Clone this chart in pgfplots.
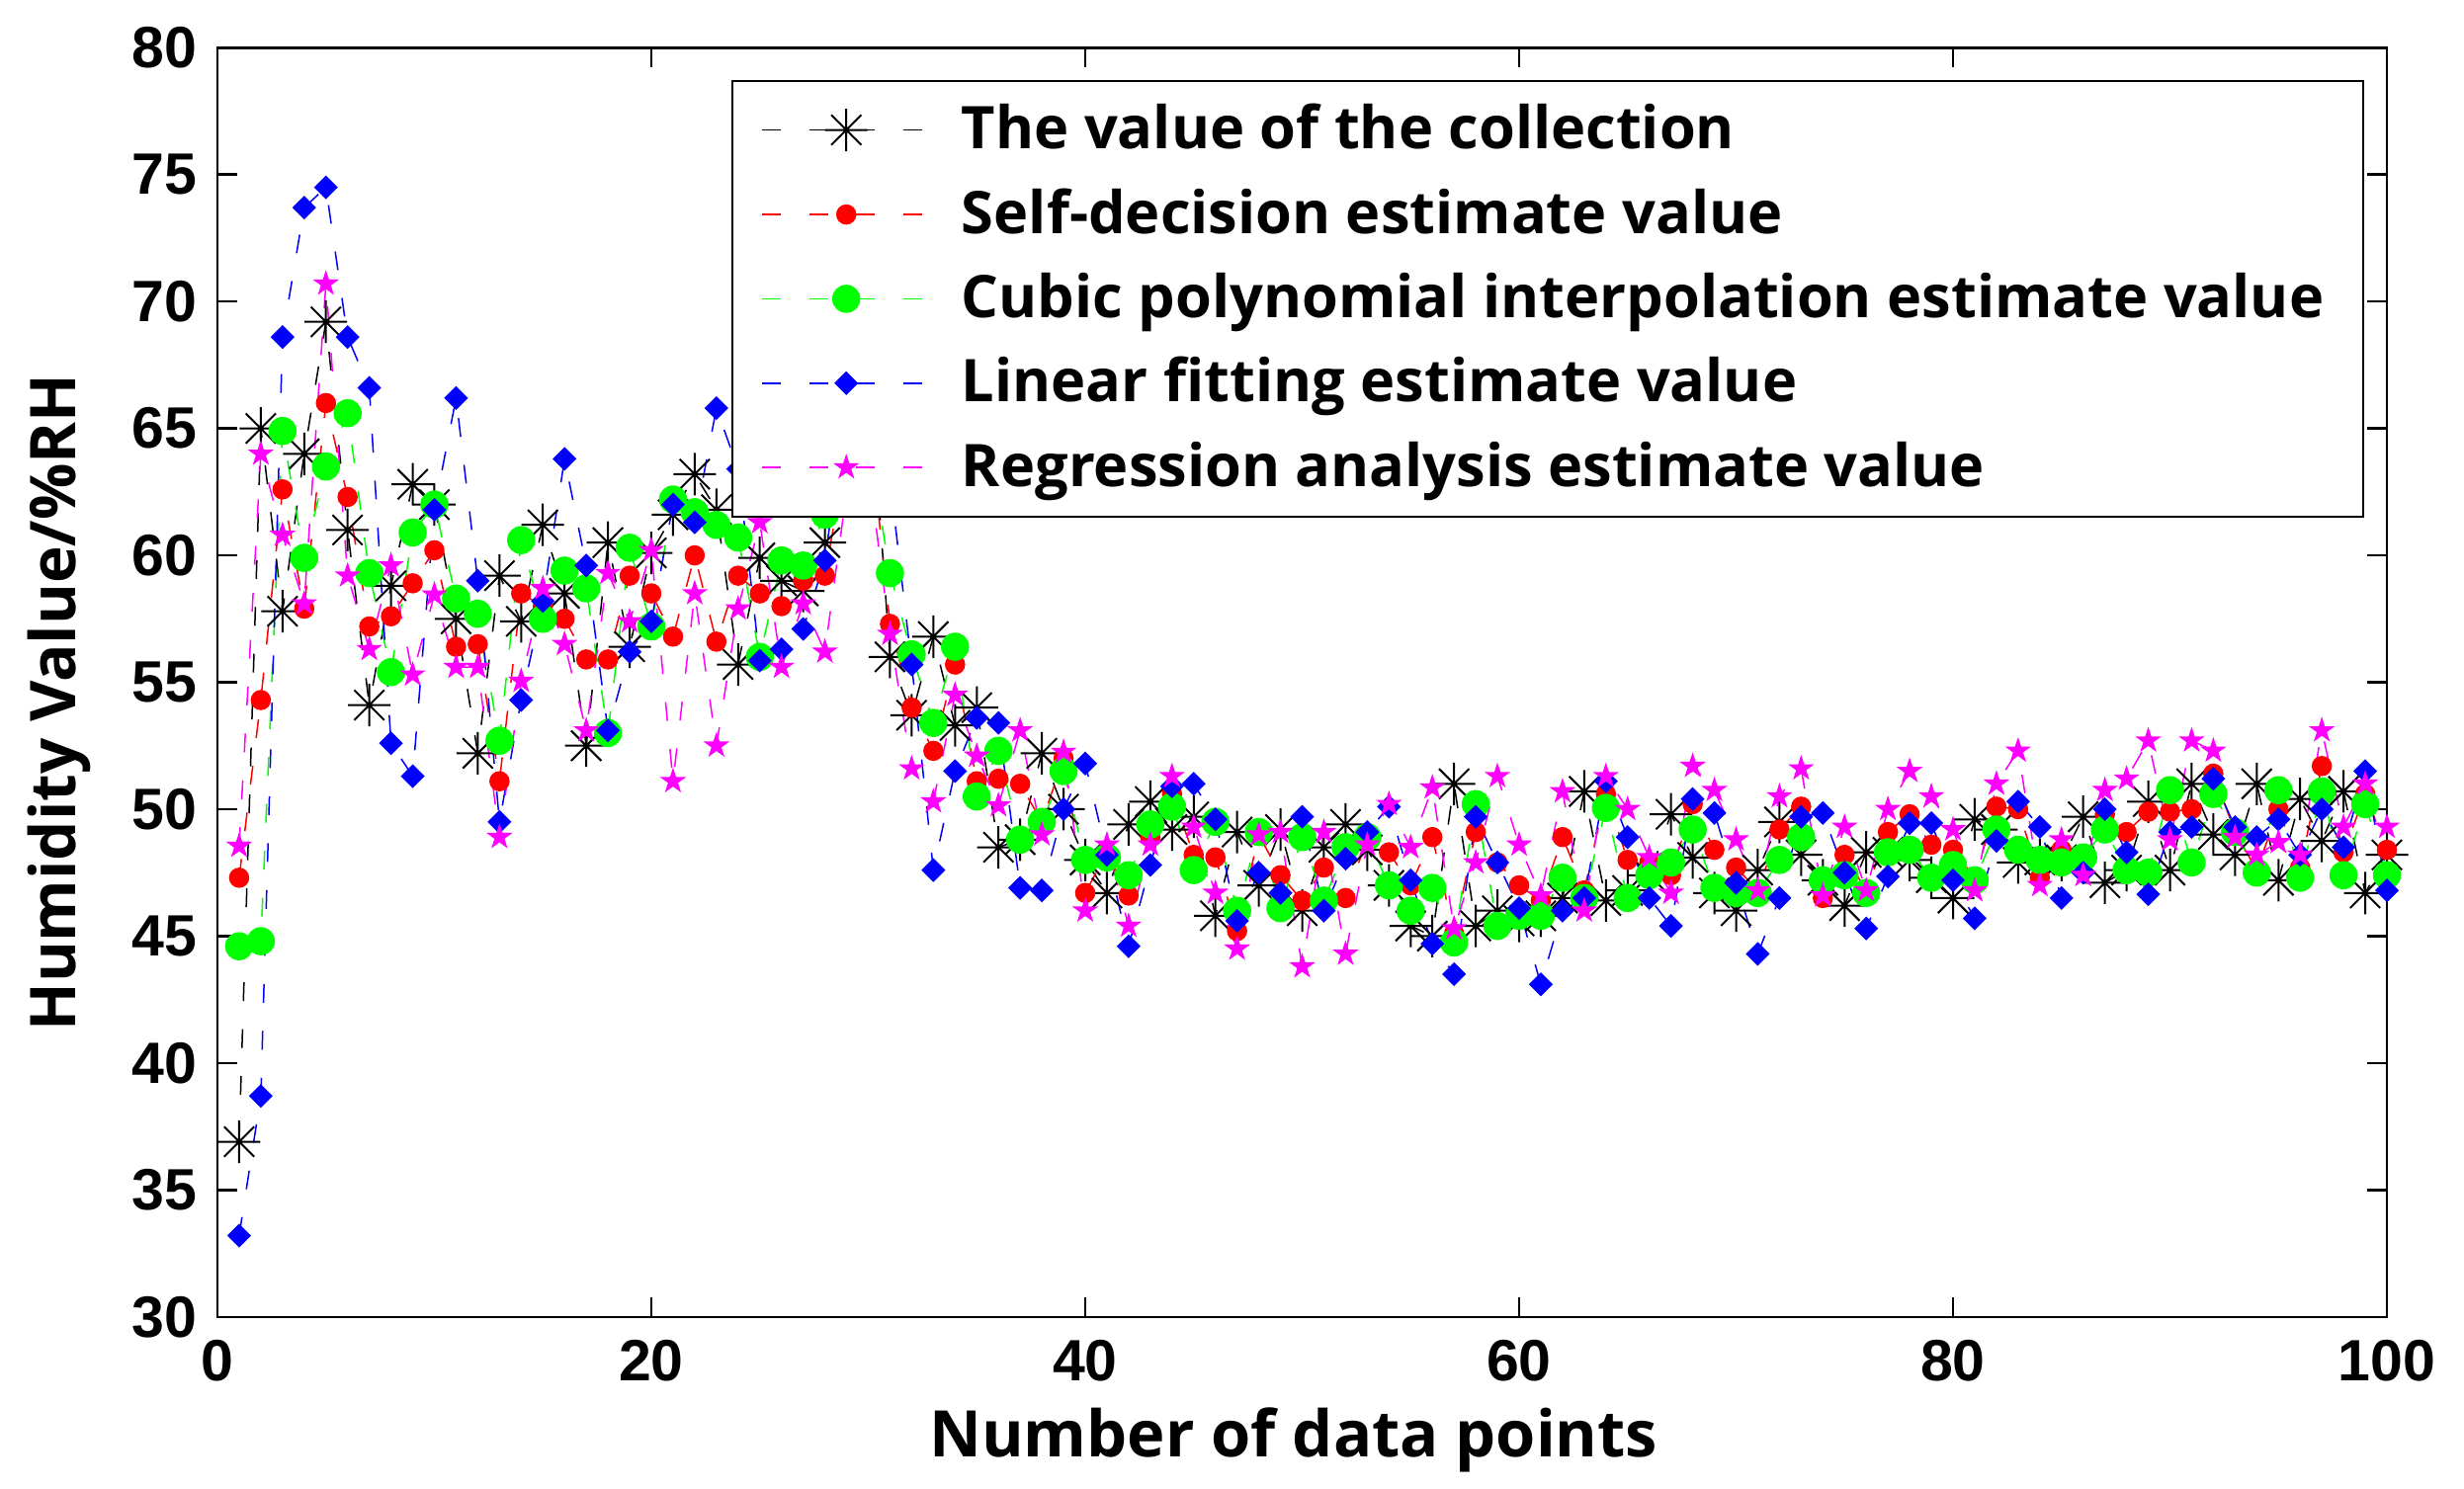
\documentclass[border=0pt]{standalone}
\usepackage{fontspec}
\setmainfont{Open Sans}
\newfontfamily\tickfont{Liberation Sans}
\usepackage{pgfplots}
\usepackage{pgfplotstable}
\pgfplotsset{compat=1.18}
\definecolor{mgt}{rgb}{1,0,1}
\definecolor{grn}{rgb}{0,1,0}

% 8-armed asterisk, filled square-diamond and filled pentagram, as in the figure
\pgfdeclareplotmark{ast8}{%
  \pgfpathmoveto{\pgfqpoint{-\pgfplotmarksize}{0pt}}\pgfpathlineto{\pgfqpoint{\pgfplotmarksize}{0pt}}%
  \pgfpathmoveto{\pgfqpoint{0pt}{-\pgfplotmarksize}}\pgfpathlineto{\pgfqpoint{0pt}{\pgfplotmarksize}}%
  \pgfpathmoveto{\pgfqpoint{-0.707\pgfplotmarksize}{-0.707\pgfplotmarksize}}\pgfpathlineto{\pgfqpoint{0.707\pgfplotmarksize}{0.707\pgfplotmarksize}}%
  \pgfpathmoveto{\pgfqpoint{-0.707\pgfplotmarksize}{0.707\pgfplotmarksize}}\pgfpathlineto{\pgfqpoint{0.707\pgfplotmarksize}{-0.707\pgfplotmarksize}}%
  \pgfusepathqstroke}
\pgfdeclareplotmark{dia}{%
  \pgfpathmoveto{\pgfqpoint{0pt}{\pgfplotmarksize}}%
  \pgfpathlineto{\pgfqpoint{\pgfplotmarksize}{0pt}}%
  \pgfpathlineto{\pgfqpoint{0pt}{-\pgfplotmarksize}}%
  \pgfpathlineto{\pgfqpoint{-\pgfplotmarksize}{0pt}}%
  \pgfpathclose\pgfusepathqfillstroke}
\pgfdeclareplotmark{pent}{%
  \pgfpathmoveto{\pgfpointpolar{90}{\pgfplotmarksize}}%
  \pgfpathlineto{\pgfpointpolar{126}{0.382\pgfplotmarksize}}%
  \pgfpathlineto{\pgfpointpolar{162}{\pgfplotmarksize}}%
  \pgfpathlineto{\pgfpointpolar{198}{0.382\pgfplotmarksize}}%
  \pgfpathlineto{\pgfpointpolar{234}{\pgfplotmarksize}}%
  \pgfpathlineto{\pgfpointpolar{270}{0.382\pgfplotmarksize}}%
  \pgfpathlineto{\pgfpointpolar{306}{\pgfplotmarksize}}%
  \pgfpathlineto{\pgfpointpolar{342}{0.382\pgfplotmarksize}}%
  \pgfpathlineto{\pgfpointpolar{18}{\pgfplotmarksize}}%
  \pgfpathlineto{\pgfpointpolar{54}{0.382\pgfplotmarksize}}%
  \pgfpathclose\pgfusepathqfillstroke}

% x  collected  self-decision  cubic  linear  regression
\pgfplotstableread{
x C S Cu L R
1 36.9 47.3 44.6 33.2 48.55
2 65.0 54.3 44.8 38.7 64.0
3 57.8 62.6 64.9 68.6 60.8
4 64.0 57.9 59.9 73.7 58.1
5 69.2 66.0 63.5 74.5 70.7
6 61.0 62.3 65.6 68.6 59.2
7 54.1 57.2 59.3 66.6 56.3
8 58.8 57.6 55.4 52.6 59.6
9 62.8 58.9 60.9 51.3 55.3
10 62.0 60.2 62.0 61.8 58.45
11 57.5 56.4 58.3 66.2 55.6
12 52.2 56.5 57.7 59.0 55.6
13 59.2 51.1 52.7 49.5 48.9
14 57.4 58.5 60.6 54.3 55.05
15 61.2 58.0 57.5 58.2 58.7
16 58.5 57.5 59.4 63.8 56.5
17 52.5 55.9 58.7 59.6 53.1
18 60.5 55.9 53.0 53.1 59.3
19 56.4 59.2 60.3 56.2 57.4
20 60.1 58.5 57.2 57.4 60.2
21 61.6 56.8 62.2 62.0 51.1
22 63.2 60.0 61.7 61.3 58.5
23 61.8 56.6 61.2 65.8 52.5
24 55.7 59.2 60.7 63.4 57.9
25 59.9 58.5 56.0 55.85 61.3
26 59.0 58.0 59.8 56.3 55.6
27 58.6 59.0 59.6 57.1 58.1
28 60.5 59.2 61.6 59.8 56.2
29 66.0 64.0 63.5 66.0 62.5
30 68.0 65.5 64.5 68.0 63.5
31 56.0 57.3 59.3 63.0 56.9
32 53.7 54.0 56.1 55.7 51.6
33 56.8 52.3 53.4 47.6 50.3
34 53.3 55.7 56.4 51.5 54.5
35 54.0 51.1 50.5 53.6 52.1
36 48.5 51.2 52.3 53.4 50.15
37 48.8 51.0 48.8 46.9 53.1
38 52.2 49.5 49.5 46.8 49.0
39 50.0 52.0 51.5 50.0 52.25
40 48.0 46.7 48.0 51.8 46.0
41 46.7 48.3 48.1 48.2 48.6
42 49.4 46.6 47.4 44.6 45.4
43 50.3 48.9 49.4 47.8 48.6
44 49.2 50.6 50.1 50.9 51.3
45 49.7 48.2 47.6 51.0 49.3
46 45.8 48.1 49.5 49.6 46.7
47 49.1 45.2 46.0 45.6 44.5
48 47.0 49.0 49.1 47.5 49.0
49 49.2 47.4 46.1 46.7 49.1
50 46.0 46.4 48.9 49.7 43.8
51 48.5 47.7 46.4 46.0 49.1
52 49.4 46.5 48.5 48.05 44.3
53 48.4 48.8 48.9 49.1 48.6
54 47.0 48.3 47.0 50.1 50.2
55 45.4 47.0 46.0 47.2 48.5
56 45.0 48.9 46.9 44.7 50.85
57 51.0 45.1 44.75 43.5 45.3
58 45.4 49.1 50.2 49.7 47.9
59 46.0 47.9 45.4 47.9 51.3
60 45.6 47.0 45.8 46.1 48.6
61 45.8 46.4 45.8 43.1 46.6
62 46.5 48.9 47.3 46.0 50.7
63 50.7 46.8 46.5 46.5 46.0
64 46.4 50.6 50.05 51.1 51.3
65 46.8 48.0 46.5 48.9 50.0
66 47.4 47.9 47.4 46.5 48.1
67 49.8 47.4 47.9 45.4 46.7
68 48.1 50.2 49.2 50.4 51.7
69 46.7 48.4 46.9 49.85 50.75
70 46.0 47.7 46.7 47.1 48.8
71 47.6 46.8 46.7 44.3 46.8
72 49.5 49.2 48.0 46.5 50.5
73 48.2 50.1 48.9 49.7 51.6
74 47.2 46.5 47.2 49.85 46.6
75 46.2 48.2 47.4 47.5 49.3
76 48.3 46.8 46.7 45.3 46.8
77 48.3 49.1 48.3 47.35 50.0
78 48.0 49.8 48.4 49.45 51.5
79 47.3 48.6 47.3 49.45 50.5
80 46.5 48.4 47.8 47.2 49.2
81 49.6 47.3 47.2 45.7 46.8
82 49.2 50.1 49.2 48.75 51.0
83 47.9 50.0 48.4 50.3 52.3
84 48.0 47.3 48.0 49.3 47.0
85 48.0 48.4 47.9 46.5 48.8
86 49.7 48.1 48.1 47.5 47.4
87 47.1 49.8 49.2 50.0 50.75
88 47.6 49.1 47.6 48.3 51.2
89 50.3 49.9 47.5 46.65 52.7
90 47.6 49.9 50.75 49.1 48.8
91 51.0 50.0 47.9 49.3 52.7
92 49.0 51.4 50.6 51.2 52.3
93 48.2 49.1 49.1 49.3 48.9
94 51.0 47.6 47.5 48.9 48.2
95 47.2 50.0 50.75 49.6 48.7
96 50.4 47.7 47.3 48.2 48.2
97 48.75 51.7 50.7 50.0 53.1
98 50.7 48.3 47.4 48.5 49.3
99 46.7 50.6 50.2 51.5 51.0
100 48.2 48.4 47.4 46.8 49.3
}\hum

\begin{document}
\begin{tikzpicture}
\begin{axis}[
  scale only axis,
  width=439pt, height=256.9pt,
  xmin=0, xmax=100, ymin=30, ymax=80,
  xtick={0,20,...,100}, ytick={30,35,...,80},
  tick align=inside, tick pos=both,
  major tick length=4pt,
  axis line style={line width=0.5pt},
  every tick/.style={black, line width=0.5pt},
  /pgf/number format/assume math mode=true,
  tick label style={font=\tickfont\bfseries\fontsize{11.8}{13}\selectfont},
  yticklabel style={xshift=-0.7pt},
  xticklabel style={yshift=-1.1pt},
  xlabel={Number of data points},
  ylabel={Humidity Value/\%RH},
  every axis x label/.style={at={(axis description cs:0.496,-0.0968)}, anchor=center,
    font=\bfseries\fontsize{13}{15}\selectfont},
  every axis y label/.style={at={(axis description cs:-0.0729,0.484)}, rotate=90, anchor=center,
    font=\bfseries\fontsize{12.75}{15}\selectfont},
  every axis plot/.append style={line width=0.3pt, dash pattern=on 3.8pt off 5.7pt},
  legend image code/.code={%
    \draw[mark repeat=2, mark phase=2, #1] plot coordinates {(0pt,0pt) (17pt,0pt) (34pt,0pt)};},
  legend cell align=left,
  legend style={
    at={(0.2369,0.9745)}, anchor=north west,
    draw=black, line width=0.4pt, fill=white,
    font=\bfseries\fontsize{11.9}{13}\selectfont,
    row sep=2.5pt, inner xsep=5.9pt, inner ysep=2.6pt,
    /tikz/every odd column/.append style={column sep=4.2pt},
  },
]
\addplot[black, mark=ast8, mark size=4.3pt, mark options={solid, line width=0.4pt}] table[x=x, y=C] {\hum};
\addplot[red, mark=*, mark size=1.9pt, mark options={solid, fill=red, draw=red}] table[x=x, y=S] {\hum};
\addplot[grn, mark=*, mark size=2.7pt, mark options={solid, fill=grn, draw=grn}] table[x=x, y=Cu] {\hum};
\addplot[blue, mark=dia, mark size=2.2pt, mark options={solid, fill=blue, draw=blue}] table[x=x, y=L] {\hum};
\addplot[mgt, mark=pent, mark size=2.3pt, mark options={solid, fill=mgt, draw=mgt}] table[x=x, y=R] {\hum};
\legend{The value of the collection, Self-decision estimate value, Cubic polynomial interpolation estimate value, Linear fitting estimate value, Regression analysis estimate value}
\end{axis}
\pgfresetboundingbox
\path (-44pt,-34.66pt) rectangle (454.6pt,266.56pt);
\end{tikzpicture}
\end{document}
